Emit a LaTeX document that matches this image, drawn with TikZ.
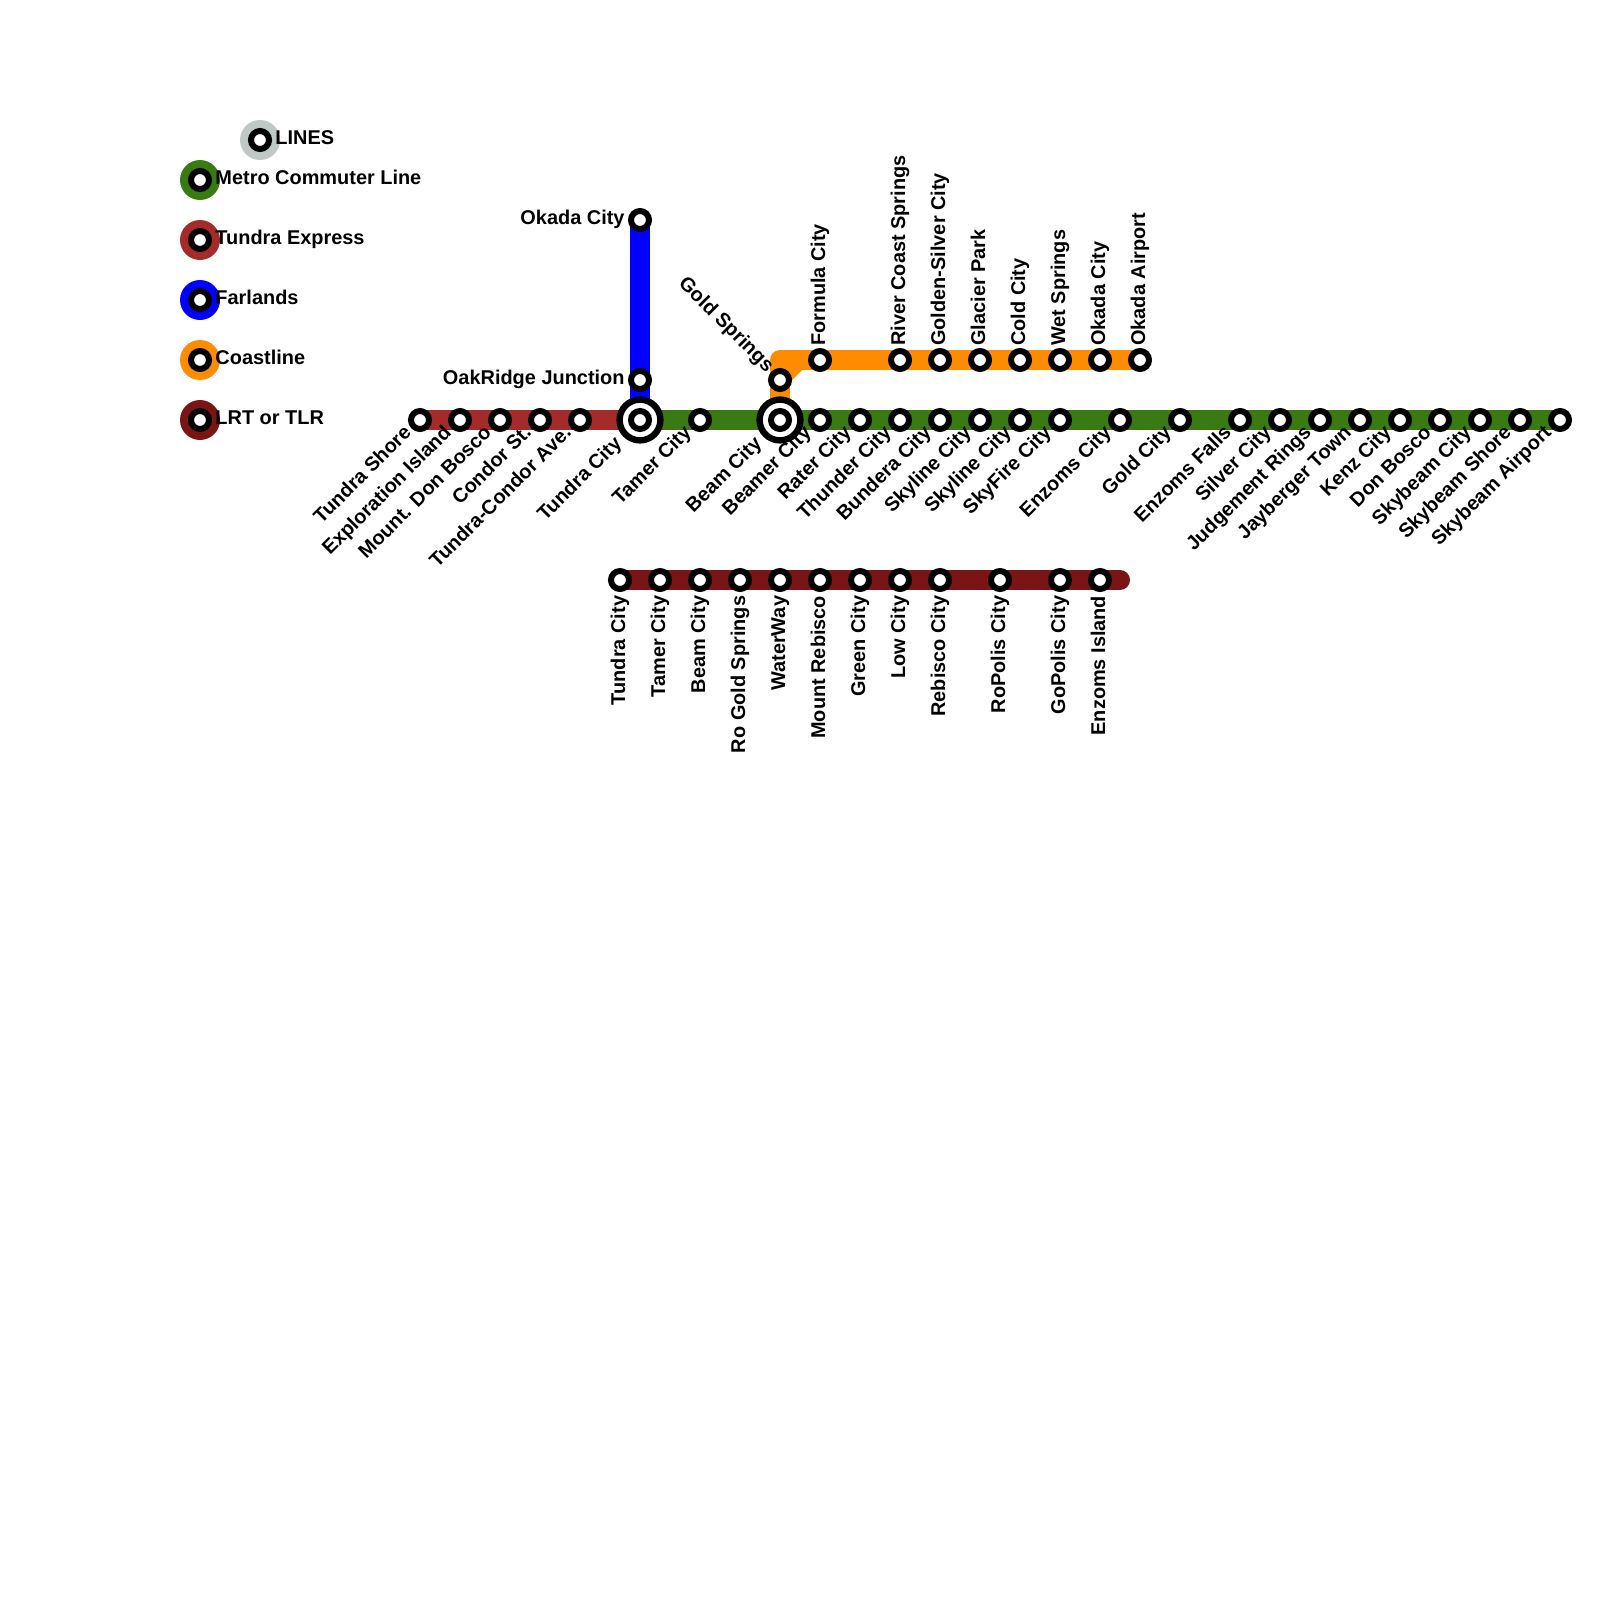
\documentclass[tikz,border=0pt]{standalone}
\usepackage{fontspec}
\setmainfont{Liberation Sans}
\usetikzlibrary{backgrounds}
\definecolor{metro}{HTML}{3A7A12}
\definecolor{tundra}{HTML}{A52A2A}
\definecolor{farlands}{HTML}{0000FF}
\definecolor{coast}{HTML}{FF8C00}
\definecolor{lrt}{HTML}{7B1515}
\definecolor{legendgrey}{HTML}{C0C8C5}
\tikzset{
  station/.style={circle,draw=black,fill=white,line width=0.15cm,minimum size=0.45cm,inner sep=0pt},
  interchange/.style={circle,draw=black,fill=white,line width=0.16cm,minimum size=1.02cm,inner sep=0pt},
  swatch/.style={circle,minimum size=1cm,inner sep=0pt},
  stationname/.style={font=\bfseries\fontsize{14.17pt}{17pt}\selectfont,inner sep=0pt},
  route/.style={line width=0.5cm,line cap=round,line join=round},
}
\begin{document}
\begin{tikzpicture}[y=-1cm]
\useasboundingbox(0,0)rectangle(40,40);
% legend
\foreach \n/\y/\c/\t in {0/4.5/metro/Metro Commuter Line,1/6/tundra/Tundra Express,2/7.5/farlands/Farlands,3/9/coast/Coastline,4/10.5/lrt/LRT or TLR}{
\node[swatch,fill=\c](sw\n)at(5,\y){};
\node[station](ls\n)at(sw\n){};
\node[stationname,anchor=base west](lt\n)at([shift={(0.38,0.11)}]sw\n.center){\t};
}
\node[swatch,fill=legendgrey](swh)at(6.5,3.5){};
\node[station](lsh)at(swh){};
\node[stationname,anchor=base west](lth)at([shift={(0.38,0.11)}]swh.center){LINES};
% main line
\foreach \n/\x/\t in {1/10.5/Tundra Shore,2/11.5/Exploration Island,3/12.5/Mount. Don Bosco,4/13.5/Condor St.,5/14.5/Tundra-Condor Ave.,7/17.5/Tamer City,9/20.5/Beamer City,10/21.5/Rater City,11/22.5/Thunder City,12/23.5/Bundera City,13/24.5/Skyline City,14/25.5/Skyline City,15/26.5/SkyFire City,16/28/Enzoms City,17/29.5/Gold City,18/31/Enzoms Falls,19/32/Silver City,20/33/Judgement Rings,21/34/Jayberger Town,22/35/Kenz City,23/36/Don Bosco,24/37/Skybeam City,25/38/Skybeam Shore,26/39/Skybeam Airport}{
\node[station](m\n)at(\x,10.5){};
\node[stationname,rotate=45,anchor=base east](mt\n)at([shift={(-0.19,0.34)}]m\n.center){\t};
}
\node[interchange](m6)at(16,10.5){};
\node[station](m6i)at(m6){};
\node[stationname,rotate=45,anchor=base east](mt6)at([shift={(-0.43,0.61)}]m6.center){Tundra City};
\node[interchange](m8)at(19.5,10.5){};
\node[station](m8i)at(m8){};
\node[stationname,rotate=45,anchor=base east](mt8)at([shift={(-0.43,0.61)}]m8.center){Beam City};
% farlands
\node[station](f1)at(16,5.5){};
\node[stationname,anchor=base east](ft1)at([shift={(-0.38,0.11)}]f1.center){Okada City};
\node[station](f2)at(16,9.5){};
\node[stationname,anchor=base east](ft2)at([shift={(-0.38,0.11)}]f2.center){OakRidge Junction};
% coastline
\node[station](c0)at(19.5,9.5){};
\node[stationname,rotate=-45,anchor=base east](ct0)at([shift={(-0.34,-0.17)}]c0.center){Gold Springs};
\foreach \n/\x/\t in {1/20.5/Formula City,2/22.5/River Coast Springs,3/23.5/Golden-Silver City,4/24.5/Glacier Park,5/25.5/Cold City,6/26.5/Wet Springs,7/27.5/Okada City,8/28.5/Okada Airport}{
\node[station](c\n)at(\x,9){};
\node[stationname,rotate=90,anchor=base west](ct\n)at([shift={(0.125,-0.35)}]c\n.center){\t};
}
% lrt
\foreach \n/\x/\t in {1/15.5/Tundra City,2/16.5/Tamer City,3/17.5/Beam City,4/18.5/Ro Gold Springs,5/19.5/WaterWay,6/20.5/Mount Rebisco,7/21.5/Green City,8/22.5/Low City,9/23.5/Rebisco City,10/25/RoPolis City,11/26.5/GoPolis City,12/27.5/Enzoms Island}{
\node[station](r\n)at(\x,14.5){};
\node[stationname,rotate=90,anchor=base east](rt\n)at([shift={(0.125,0.39)}]r\n.center){\t};
}
\coordinate(rend)at(28,14.5);
\coordinate(ctop)at(19.5,9);
\coordinate(cbend1)at(19.5,9.45);
\coordinate(cbend2)at(19.95,9);
\begin{scope}[on background layer]
\draw[route,tundra](m1.center)--(m6.center);
\draw[route,farlands](f1.center)--(m6.center);
\draw[route,coast](m8.center)--(ctop)--(c8.center);
\draw[route,coast](cbend1)--(cbend2);
\draw[route,metro](m6.center)--(m26.center);
\draw[route,lrt](r1.center)--(rend);
\end{scope}
\end{tikzpicture}
\end{document}
